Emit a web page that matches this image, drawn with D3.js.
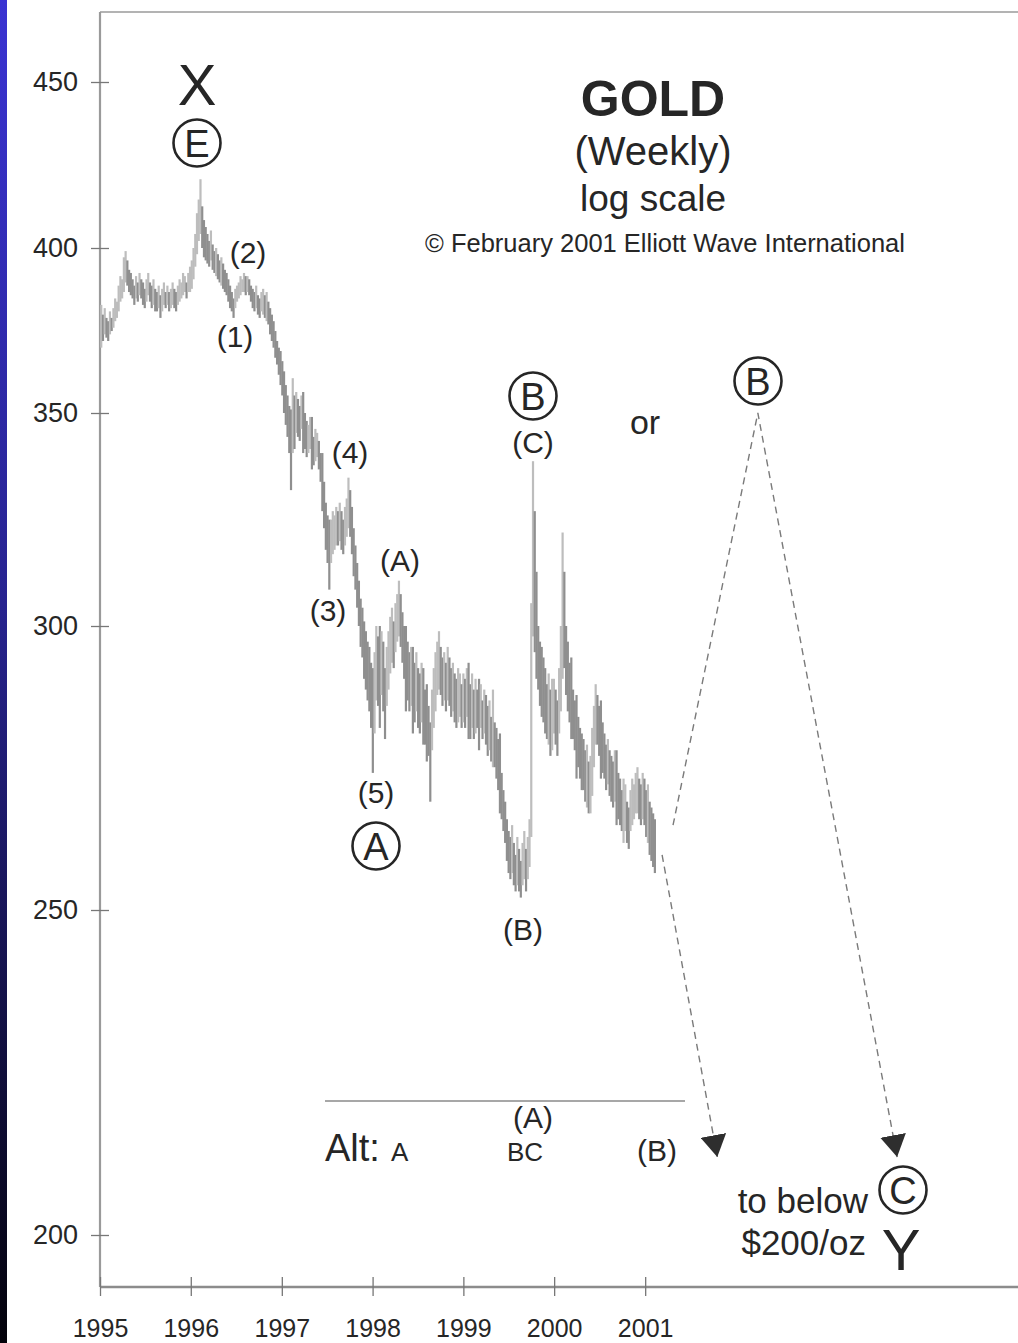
<!DOCTYPE html>
<html>
<head>
<meta charset="utf-8">
<script src="https://cdn.jsdelivr.net/npm/d3@7"></script>
<style>
  html, body { margin: 0; padding: 0; background: #fff; }
  svg { display: block; }
  text { font-family: "Liberation Sans", Arial, Helvetica, sans-serif; fill: #262626; }
</style>
</head>
<body>
<svg id="chart" width="1018" height="1343"></svg>
<script>
// Weekly gold price ranges, [high, low] in US$/oz, one pair per week from the first week of 1995.
const gold1995 = [
  [382,369],[379,371],[381,373],[378,372],[377,371],[380,373],[378,374],[381,375],[384,377],[383,378],
  [388,380],[391,383],[390,384],[397,386],[399,389],[396,388],[393,386],[392,385],[390,384],[388,382],
  [391,384],[389,383],[392,385],[390,384],[389,382],[387,381],[390,383],[392,385],[389,383],[388,381],
  [390,382],[387,380],[386,380],[388,381],[385,378],[387,380],[389,382],[386,381],[388,382],[386,380],
  [387,381],[389,382],[387,381],[386,380],[388,382],[390,383],[389,384],[392,385],[391,386],[389,384],
  [392,386],[394,386]
];
const gold1996 = [
  [396,387],[400,390],[404,394],[410,398],[414,402],[420,404],[412,400],[408,397],[406,396],[404,395],
  [402,394],[405,396],[401,393],[399,392],[400,391],[398,390],[396,389],[397,388],[395,387],[393,386],
  [392,385],[390,383],[388,381],[386,380],[384,378],[387,381],[388,383],[389,384],[391,385],[390,386],
  [392,386],[391,385],[391,386],[390,385],[388,383],[387,381],[386,380],[388,381],[385,379],[384,378],
  [386,380],[387,379],[385,378],[386,377],[383,376],[381,373],[379,371],[377,369],[374,366],[371,364],
  [369,361],[368,358]
];
const gold1997 = [
  [365,355],[362,350],[358,347],[355,344],[352,340],[351,331],[360,340],[355,341],[356,345],[354,344],
  [352,343],[355,346],[356,340],[350,341],[348,339],[347,340],[349,341],[349,336],[344,337],[346,338],
  [345,339],[343,336],[340,333],[340,326],[333,322],[328,317],[325,314],[324,308],[324,314],[326,316],
  [325,317],[327,318],[326,318],[328,319],[326,317],[324,316],[327,318],[329,320],[334,322],[331,320],
  [327,316],[322,311],[318,308],[314,304],[310,300],[306,296],[304,294],[301,290],[299,288],[297,286],
  [296,284],[293,281]
];
const gold1998 = [
  [292,273],[295,280],[300,286],[298,285],[300,281],[299,287],[297,284],[292,279],[296,285],[299,288],
  [302,291],[304,293],[301,292],[305,295],[307,297],[310,298],[307,296],[303,293],[300,290],[300,284],
  [297,286],[295,284],[296,285],[296,280],[293,282],[295,284],[292,281],[291,280],[293,282],[292,278],
  [288,278],[289,275],[285,276],[282,268],[288,277],[292,281],[295,284],[297,287],[299,288],[296,287],
  [294,285],[295,286],[293,284],[296,286],[294,285],[292,283],[293,284],[291,282],[290,281],[292,282],
  [291,283],[289,281]
];
const gold1999 = [
  [291,282],[290,281],[292,283],[293,279],[289,279],[291,281],[288,279],[290,280],[288,281],[290,277],
  [289,281],[286,279],[288,280],[287,278],[285,276],[286,277],[283,275],[288,274],[282,274],[281,272],
  [279,270],[280,266],[273,265],[270,263],[268,261],[265,258],[263,256],[262,255],[264,256],[261,254],
  [259,253],[262,254],[260,253],[258,252],[261,254],[263,255],[260,253],[262,255],[265,257],[305,262],
  [338,298],[326,295],[312,290],[300,288],[297,285],[296,283],[294,282],[292,280],[289,279],[291,278],
  [288,276],[290,277]
];
const gold2000 = [
  [290,280],[288,278],[286,276],[292,280],[300,284],[321,290],[312,292],[300,287],[297,284],[293,282],
  [294,279],[288,279],[286,277],[287,272],[283,274],[281,272],[280,270],[279,270],[277,268],[278,267],
  [275,266],[276,266],[281,269],[285,274],[289,278],[287,278],[285,276],[286,272],[282,273],[280,272],
  [278,270],[279,271],[277,269],[276,268],[275,267],[277,268],[277,264],[273,265],[272,264],[270,263],
  [272,261],[271,263],[268,261],[267,260],[270,263],[272,264],[271,265],[273,266],[274,266],[272,265],
  [271,264],[273,265]
];
const gold2001 = [
  [272,264],[270,262],[271,261],[268,259],[267,258],[266,257],[265,256]
];

// Projected paths (date, price)
const projectionRally = [["2001-04-23", 264], ["2002-03-30", 350], ["2003-10-11", 211]];
const projectionDecline = [["2001-03-10", 259], ["2001-10-18", 211]];

// Axis ticks
const yearTicks = [1995, 1996, 1997, 1998, 1999, 2000, 2001];
const priceTicks = [200, 250, 300, 350, 400, 450];

const firstWeek = Date.UTC(1995, 0, 6);
const DAY = 86400000;
const parseDay = d3.utcParse("%Y-%m-%d");

const weeks = [gold1995, gold1996, gold1997, gold1998, gold1999, gold2000, gold2001]
  .flat()
  .map((p, i) => ({ date: new Date(firstWeek + i * 7 * DAY), high: p[0], low: p[1] }));
weeks.forEach((d, i) => {
  const mid = (d.high + d.low) / 2;
  const prev = i > 0 ? (weeks[i - 1].high + weeks[i - 1].low) / 2 : mid;
  d.up = mid >= prev;
});

const svg = d3.select("#chart");
const W = 1018, H = 1343;
const plotLeft = 100, plotTop = 12, plotBottom = 1287;

// Edge stripe
const defs = svg.append("defs");
const grad = defs.append("linearGradient").attr("id", "edge").attr("x1", 0).attr("y1", 0).attr("x2", 0).attr("y2", 1);
grad.append("stop").attr("offset", "0").attr("stop-color", "#3a33d2");
grad.append("stop").attr("offset", "0.45").attr("stop-color", "#27238f");
grad.append("stop").attr("offset", "1").attr("stop-color", "#03020a");
svg.append("rect").attr("x", 0).attr("y", 0).attr("width", 7).attr("height", H).attr("fill", "url(#edge)");

defs.append("marker")
  .attr("id", "arrowhead")
  .attr("viewBox", "0 0 22 26")
  .attr("refX", 22).attr("refY", 13)
  .attr("markerWidth", 22).attr("markerHeight", 26)
  .attr("markerUnits", "userSpaceOnUse")
  .attr("orient", "auto")
  .append("path").attr("d", "M0,0 L22,13 L0,26 Z").attr("fill", "#2e2e2e");

// Scales: time on x, piecewise log on y
const x = d3.scaleUtc()
  .domain([new Date(Date.UTC(1995, 0, 1)), new Date(Date.UTC(2005, 1, 8))])
  .range([plotLeft, W]);
const y = d3.scaleLog()
  .domain(priceTicks)
  .range([1235, 910, 626, 413, 248, 82]);

// Frame
const frame = svg.append("g").attr("stroke", "#9a9a9a").attr("fill", "none");
frame.append("line").attr("x1", plotLeft).attr("x2", W).attr("y1", plotTop).attr("y2", plotTop).attr("stroke-width", 1.6);

// Y axis
const yAxis = svg.append("g").attr("transform", `translate(${plotLeft},0)`)
  .call(d3.axisLeft(y).tickValues(priceTicks).tickFormat(d3.format("d")).tickSizeOuter(0));
yAxis.select(".domain").remove();
yAxis.selectAll(".tick line").attr("x1", -9).attr("x2", 9).attr("stroke", "#777").attr("stroke-width", 1.3);
yAxis.selectAll(".tick text").attr("x", -22).attr("font-size", 27).attr("fill", "#262626")
  .style("font-family", "'Liberation Sans', Arial, sans-serif");

// X axis
const xAxis = svg.append("g").attr("transform", `translate(0,${plotBottom})`)
  .call(d3.axisBottom(x)
    .tickValues(yearTicks.map(yr => new Date(Date.UTC(yr, 0, 1))))
    .tickFormat(d3.utcFormat("%Y"))
    .tickSizeOuter(0));
xAxis.select(".domain").remove();
xAxis.selectAll(".tick line").attr("y1", -10).attr("y2", 9).attr("stroke", "#777").attr("stroke-width", 1.3);
xAxis.selectAll(".tick text").attr("y", 32).attr("font-size", 25).attr("fill", "#262626")
  .style("font-family", "'Liberation Sans', Arial, sans-serif");

frame.append("line").attr("x1", plotLeft).attr("x2", plotLeft).attr("y1", plotTop).attr("y2", plotBottom).attr("stroke-width", 2.2);
frame.append("line").attr("x1", plotLeft).attr("x2", W).attr("y1", plotBottom).attr("y2", plotBottom).attr("stroke-width", 2.4).attr("stroke", "#8c8c8c");

// Weekly high-low bars
svg.append("g").selectAll("rect").data(weeks).join("rect")
  .attr("x", d => x(d.date) - 1.1)
  .attr("width", 2.2)
  .attr("y", d => y(d.high))
  .attr("height", d => Math.max(1, y(d.low) - y(d.high)))
  .attr("fill", d => d.up ? "#bdbdbd" : "#8f8f8f");

// Projected paths
const projLine = d3.line().x(d => x(parseDay(d[0]))).y(d => y(d[1]));
[projectionRally, projectionDecline].forEach(path => {
  svg.append("path")
    .attr("d", projLine(path))
    .attr("fill", "none")
    .attr("stroke", "#7a7a7a")
    .attr("stroke-width", 1.4)
    .attr("stroke-dasharray", "7,5")
    .attr("marker-end", "url(#arrowhead)");
});

// Alternate count divider
svg.append("line").attr("x1", 325).attr("x2", 685).attr("y1", 1101).attr("y2", 1101)
  .attr("stroke", "#8a8a8a").attr("stroke-width", 1.5);

// Text annotations
const notes = [
  { t: "GOLD", x: 653, y: 116, s: 50, w: "bold" },
  { t: "(Weekly)", x: 653, y: 165, s: 40 },
  { t: "log scale", x: 653, y: 211, s: 37 },
  { t: "\u00A9 February 2001 Elliott Wave International", x: 665, y: 252, s: 25.5 },
  { t: "X", x: 197, y: 105, s: 58 },
  { t: "(2)", x: 248, y: 263, s: 30 },
  { t: "(1)", x: 235, y: 347, s: 30 },
  { t: "(4)", x: 350, y: 463, s: 30 },
  { t: "(3)", x: 328, y: 621, s: 30 },
  { t: "(A)", x: 400, y: 571, s: 30 },
  { t: "(5)", x: 376, y: 803, s: 30 },
  { t: "(C)", x: 533, y: 453, s: 30 },
  { t: "(B)", x: 523, y: 940, s: 30 },
  { t: "or", x: 645, y: 434, s: 34 },
  { t: "Alt:", x: 325, y: 1161, s: 38, a: "start" },
  { t: "A", x: 391, y: 1161, s: 26, a: "start" },
  { t: "(A)", x: 533, y: 1128, s: 30 },
  { t: "BC", x: 525, y: 1161, s: 26 },
  { t: "(B)", x: 657, y: 1161, s: 30 },
  { t: "to below", x: 868, y: 1213, s: 35, a: "end" },
  { t: "$200/oz", x: 866, y: 1255, s: 35, a: "end" },
  { t: "Y", x: 901, y: 1270, s: 58 }
];
svg.append("g").selectAll("text").data(notes).join("text")
  .attr("x", d => d.x).attr("y", d => d.y)
  .attr("font-size", d => d.s)
  .attr("font-weight", d => d.w || "normal")
  .attr("text-anchor", d => d.a || "middle")
  .text(d => d.t);

// Circled wave labels
const circled = [
  { t: "E", x: 197, y: 143 },
  { t: "A", x: 376, y: 846 },
  { t: "B", x: 533, y: 396 },
  { t: "B", x: 758, y: 381 },
  { t: "C", x: 903, y: 1190 }
];
const cg = svg.append("g").selectAll("g").data(circled).join("g")
  .attr("transform", d => `translate(${d.x},${d.y})`);
cg.append("circle").attr("r", 23.5).attr("fill", "#fff").attr("stroke", "#262626").attr("stroke-width", 2.6);
cg.append("text").attr("text-anchor", "middle").attr("y", 13.5).attr("font-size", 38).text(d => d.t);
</script>
</body>
</html>
